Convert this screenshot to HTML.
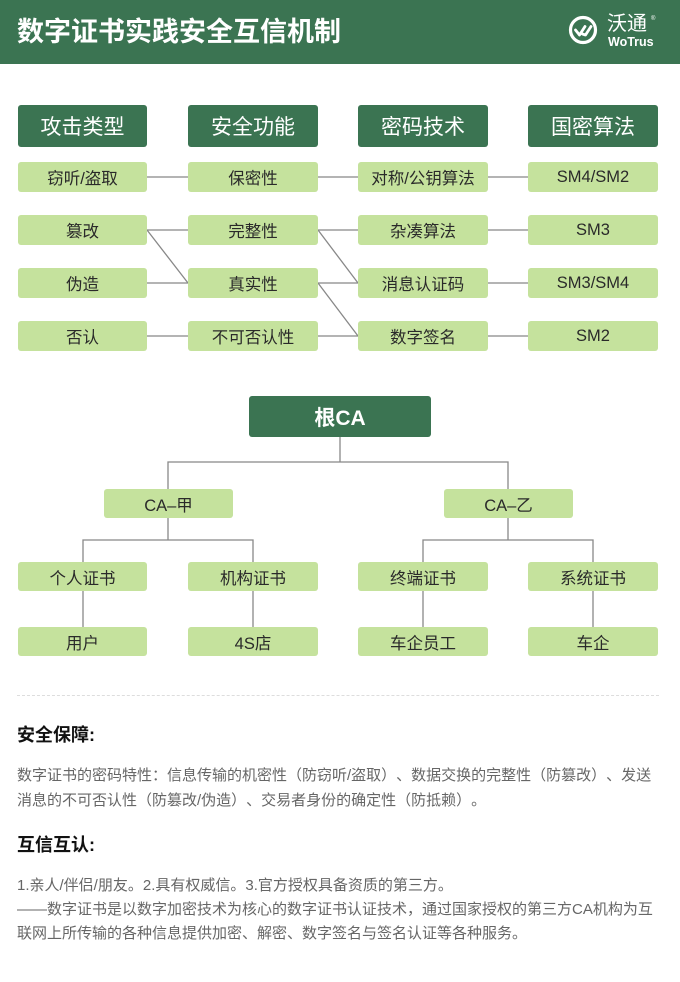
<!DOCTYPE html>
<html><head><meta charset="utf-8">
<style>
*{margin:0;padding:0;box-sizing:border-box}
html,body{width:680px;height:982px;background:#fff;overflow:hidden}
body{position:relative;font-family:"Liberation Sans","Noto Sans CJK SC",sans-serif;text-spacing-trim:space-all}
.hdr{position:absolute;left:0;top:0;width:680px;height:64px;background:#3b7452}
.title{position:absolute;left:17px;top:14px;font-size:27px;line-height:36px;font-weight:bold;color:#fff;white-space:nowrap;letter-spacing:0px}
.b{position:absolute;display:flex;align-items:center;justify-content:center;white-space:nowrap;border-radius:3px}
.d{background:#3b7452;color:#fff;font-size:21px}
.l{background:#c5e29d;color:#2a2a2a;font-size:16.5px}
.t{position:absolute;white-space:nowrap;text-spacing-trim:space-all}
.h2{font-size:18px;font-weight:bold;color:#111;left:17px}
.p{font-size:15px;color:#666;left:17px;line-height:25px}
</style></head><body>
<div class="hdr"></div>
<div class="title">数字证书实践安全互信机制</div>
<svg style="position:absolute;left:0;top:0" width="680" height="64">
<circle cx="583" cy="30" r="12.5" fill="none" stroke="#fff" stroke-width="3.2"/>
<path d="M575.5 30 L579.5 35 L585 26.5 M582.5 34 L585.5 35 L591 26.5" fill="none" stroke="#fff" stroke-width="2.8" stroke-linecap="round" stroke-linejoin="round"/>
<text x="607" y="30" font-family="Liberation Sans,Noto Sans CJK SC,sans-serif" font-size="20" fill="#fff">沃通</text>
<text x="608" y="46" font-family="Liberation Sans,sans-serif" font-size="12.5" font-weight="bold" fill="#fff">WoTrus</text>
<text x="651" y="20" font-family="Liberation Sans,sans-serif" font-size="6" fill="#fff">®</text>
</svg>

<svg style="position:absolute;left:0;top:0" width="680" height="700">
<g stroke="#888" stroke-width="1.3" fill="none">
<line x1="147" y1="177" x2="188" y2="177"/><line x1="318" y1="177" x2="358" y2="177"/><line x1="488" y1="177" x2="528" y2="177"/>
<line x1="147" y1="230" x2="188" y2="230"/><line x1="318" y1="230" x2="358" y2="230"/><line x1="488" y1="230" x2="528" y2="230"/>
<line x1="147" y1="283" x2="188" y2="283"/><line x1="318" y1="283" x2="358" y2="283"/><line x1="488" y1="283" x2="528" y2="283"/>
<line x1="147" y1="336" x2="188" y2="336"/><line x1="318" y1="336" x2="358" y2="336"/><line x1="488" y1="336" x2="528" y2="336"/>
<line x1="147" y1="230" x2="188" y2="283"/>
<line x1="318" y1="230" x2="358" y2="283"/>
<line x1="318" y1="283" x2="358" y2="336"/>
<polyline points="340,437 340,462"/>
<polyline points="168,489 168,462 508,462 508,489"/>
<polyline points="168,518 168,540"/>
<polyline points="83,562 83,540 253,540 253,562"/>
<polyline points="508,518 508,540"/>
<polyline points="423,562 423,540 593,540 593,562"/>
<line x1="83" y1="591" x2="83" y2="627"/>
<line x1="253" y1="591" x2="253" y2="627"/>
<line x1="423" y1="591" x2="423" y2="627"/>
<line x1="593" y1="591" x2="593" y2="627"/>
</g>
</svg>

<div class="b d" style="left:18px;top:105px;width:129px;height:42px">攻击类型</div>
<div class="b d" style="left:188px;top:105px;width:130px;height:42px">安全功能</div>
<div class="b d" style="left:358px;top:105px;width:130px;height:42px">密码技术</div>
<div class="b d" style="left:528px;top:105px;width:130px;height:42px">国密算法</div>

<div class="b l" style="left:18px;top:162px;width:129px;height:30px">窃听/盗取</div>
<div class="b l" style="left:188px;top:162px;width:130px;height:30px">保密性</div>
<div class="b l" style="left:358px;top:162px;width:130px;height:30px">对称/公钥算法</div>
<div class="b l" style="left:528px;top:162px;width:130px;height:30px">SM4/SM2</div>

<div class="b l" style="left:18px;top:215px;width:129px;height:30px">篡改</div>
<div class="b l" style="left:188px;top:215px;width:130px;height:30px">完整性</div>
<div class="b l" style="left:358px;top:215px;width:130px;height:30px">杂凑算法</div>
<div class="b l" style="left:528px;top:215px;width:130px;height:30px">SM3</div>

<div class="b l" style="left:18px;top:268px;width:129px;height:30px">伪造</div>
<div class="b l" style="left:188px;top:268px;width:130px;height:30px">真实性</div>
<div class="b l" style="left:358px;top:268px;width:130px;height:30px">消息认证码</div>
<div class="b l" style="left:528px;top:268px;width:130px;height:30px">SM3/SM4</div>

<div class="b l" style="left:18px;top:321px;width:129px;height:30px">否认</div>
<div class="b l" style="left:188px;top:321px;width:130px;height:30px">不可否认性</div>
<div class="b l" style="left:358px;top:321px;width:130px;height:30px">数字签名</div>
<div class="b l" style="left:528px;top:321px;width:130px;height:30px">SM2</div>

<div class="b d" style="left:249px;top:396px;width:182px;height:41px;font-weight:bold">根CA</div>
<div class="b l" style="left:104px;top:489px;width:129px;height:29px">CA–甲</div>
<div class="b l" style="left:444px;top:489px;width:129px;height:29px">CA–乙</div>

<div class="b l" style="left:18px;top:562px;width:129px;height:29px">个人证书</div>
<div class="b l" style="left:188px;top:562px;width:130px;height:29px">机构证书</div>
<div class="b l" style="left:358px;top:562px;width:130px;height:29px">终端证书</div>
<div class="b l" style="left:528px;top:562px;width:130px;height:29px">系统证书</div>

<div class="b l" style="left:18px;top:627px;width:129px;height:29px">用户</div>
<div class="b l" style="left:188px;top:627px;width:130px;height:29px">4S店</div>
<div class="b l" style="left:358px;top:627px;width:130px;height:29px">车企员工</div>
<div class="b l" style="left:528px;top:627px;width:130px;height:29px">车企</div>

<div style="position:absolute;left:17px;top:695px;width:642px;border-top:1px dashed #ddd"></div>

<div class="t h2" style="top:722px;line-height:26px">安全保障:</div>
<div class="t p" style="top:763px">数字证书的密码特性：信息传输的机密性（防窃听/盗取）、数据交换的完整性（防篡改）、发送<br>消息的不可否认性（防篡改/伪造）、交易者身份的确定性（防抵赖）。</div>

<div class="t h2" style="top:832px;line-height:26px">互信互认:</div>
<div class="t p" style="top:874px;line-height:24px">1.亲人/伴侣/朋友。2.具有权威信。3.官方授权具备资质的第三方。<br>——数字证书是以数字加密技术为核心的数字证书认证技术，通过国家授权的第三方CA机构为互<br>联网上所传输的各种信息提供加密、解密、数字签名与签名认证等各种服务。</div>
</body></html>
